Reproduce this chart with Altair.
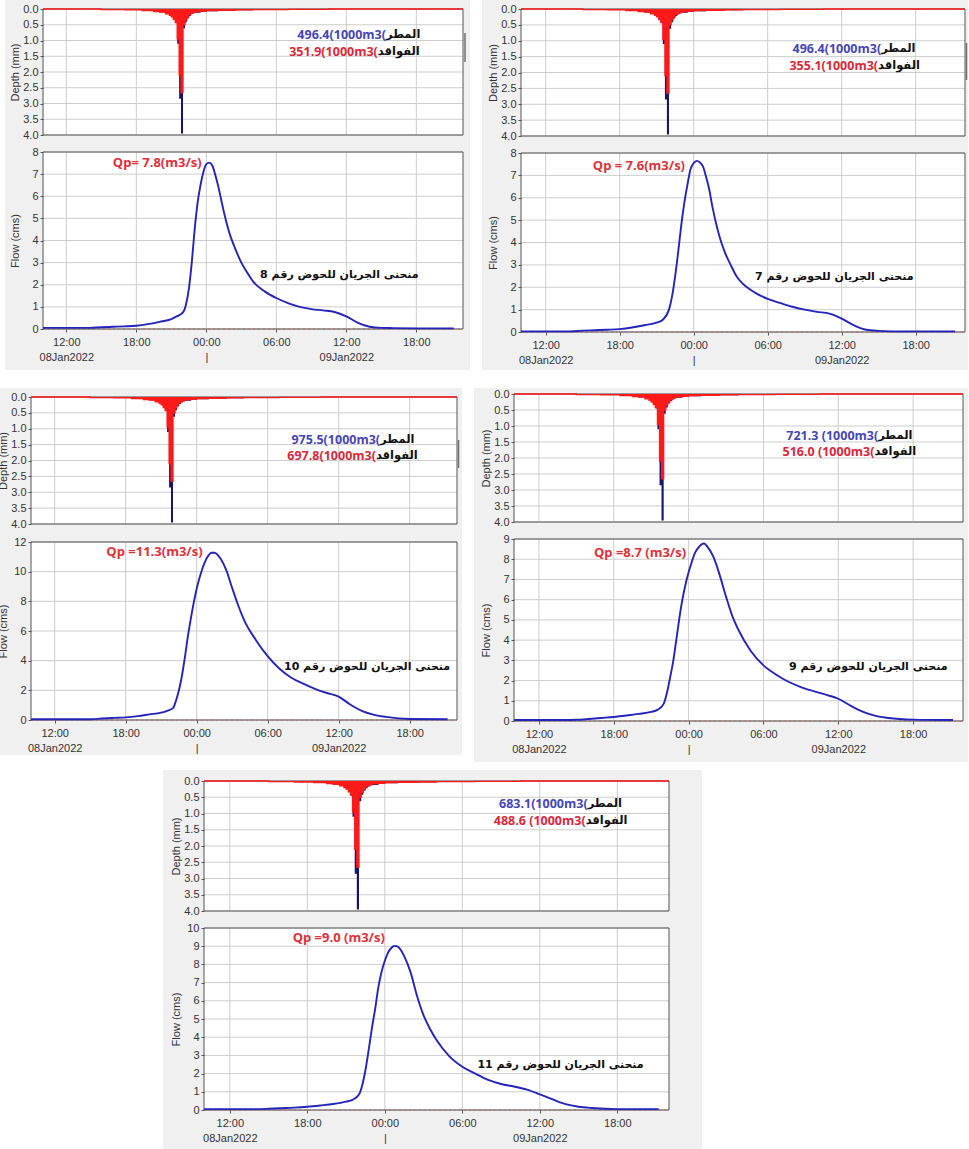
import altair as alt
import pandas as pd

# ---------------- data ----------------
# time in hours since 08Jan2022 00:00
HOURS = [10, 14, 15, 16, 17, 18, 19, 20, 21, 21.5, 22, 22.25, 22.5, 22.75, 23, 23.25, 23.5, 23.75, 24,
         24.25, 24.5, 24.75, 25, 25.25, 25.5, 26, 26.5, 27, 27.5, 28, 29, 30, 31, 32, 33, 34, 35, 36,
         37, 38, 39, 40, 42, 45.2]
FLOW_8 = [0.05, 0.05, 0.08, 0.1, 0.12, 0.15, 0.22, 0.32, 0.45, 0.58, 0.75, 1.1, 1.8, 3.0, 4.5, 5.7, 6.5, 7.1, 7.45,
          7.52, 7.4, 7.0, 6.5, 5.9, 5.3, 4.3, 3.6, 3.0, 2.55, 2.15, 1.7, 1.4, 1.17, 1.0, 0.9, 0.84, 0.77, 0.57,
          0.28, 0.1, 0.05, 0.04, 0.03, 0.03]
FLOW_7 = [0.03, 0.03, 0.06, 0.08, 0.1, 0.13, 0.2, 0.3, 0.42, 0.55, 1.0, 1.6, 2.5, 3.6, 4.8, 5.8, 6.6, 7.28, 7.55,
          7.65, 7.58, 7.4, 6.95, 6.4, 5.65, 4.45, 3.6, 3.0, 2.47, 2.15, 1.75, 1.48, 1.3, 1.13, 1.0, 0.9, 0.82, 0.6,
          0.3, 0.1, 0.05, 0.03, 0.03, 0.03]
FLOW_10 = [0.05, 0.05, 0.05, 0.1, 0.14, 0.18, 0.26, 0.38, 0.5, 0.62, 0.8, 1.3, 2.0, 2.95, 4.2, 5.6, 6.8, 7.9, 8.85,
           9.6, 10.25, 10.75, 11.1, 11.28, 11.28, 10.9, 10.1, 8.9, 7.75, 6.75, 5.4, 4.3, 3.45, 2.85, 2.45, 2.1, 1.82,
           1.58, 1.03, 0.6, 0.35, 0.21, 0.07, 0.05]
FLOW_9 = [0.05, 0.05, 0.06, 0.1, 0.15, 0.2, 0.27, 0.35, 0.45, 0.55, 0.85, 1.36, 2.1, 2.9, 3.95, 5.05, 6.0, 6.75, 7.35,
          7.85, 8.3, 8.55, 8.72, 8.78, 8.62, 8.1, 7.2, 6.15, 5.2, 4.5, 3.45, 2.75, 2.3, 1.94, 1.68, 1.48, 1.3, 1.1,
          0.75, 0.45, 0.25, 0.15, 0.07, 0.05]
FLOW_11 = [0.05, 0.05, 0.07, 0.1, 0.13, 0.18, 0.25, 0.33, 0.46, 0.56, 0.85, 1.36, 2.2, 3.3, 4.5, 5.55, 6.75, 7.6, 8.2,
           8.65, 8.9, 9.02, 8.98, 8.78, 8.45, 7.55, 6.25, 5.2, 4.45, 3.85, 2.95, 2.38, 2.0, 1.65, 1.43, 1.29, 1.12,
           0.86, 0.58, 0.32, 0.18, 0.11, 0.05, 0.05]

# hyetograph (step start times, hours) : precipitation and loss depths (mm)
RAIN_T = [10, 15, 17, 18.5, 19.5, 20, 20.5, 20.83, 21, 21.17, 21.33, 21.5, 21.67, 21.83, 22, 22.17, 22.33,
          22.5, 22.67, 22.83, 23, 23.5, 24, 25, 26.5, 28, 31, 34.5, 46]
RAIN_D = [0, 0.02, 0.03, 0.05, 0.08, 0.1, 0.15, 0.2, 0.25, 0.33, 0.45, 1.1, 2.85, 3.95, 0.62, 0.42, 0.3,
          0.22, 0.17, 0.14, 0.12, 0.09, 0.07, 0.05, 0.04, 0.03, 0.02, 0, 0]
LOSS_D = [0, 0.02, 0.03, 0.05, 0.08, 0.1, 0.15, 0.2, 0.25, 0.33, 0.42, 0.95, 2.1, 2.65, 0.5, 0.35, 0.25,
          0.18, 0.14, 0.11, 0.09, 0.07, 0.05, 0.04, 0.03, 0.02, 0.01, 0, 0]

X_TICKS = [12, 18, 24, 30, 36, 42]
X_LABEL_1 = ["12:00", "18:00", "00:00", "06:00", "12:00", "18:00"]
X_LABEL_2 = ["08Jan2022", "", "|", "", "09Jan2022", ""]
DEPTH_TICKS = [0, 0.5, 1.0, 1.5, 2.0, 2.5, 3.0, 3.5, 4.0]

BASINS = ["8", "7", "10", "9", "11"]
RAIN_TXT = ["496.4(1000m3(", "496.4(1000m3(", "975.5(1000m3(", "721.3 (1000m3(", "683.1(1000m3("]
LOSS_TXT = ["351.9(1000m3(", "355.1(1000m3(", "697.8(1000m3(", "516.0 (1000m3(", "488.6 (1000m3("]
QP_TXT = ["Qp= 7.8(m3/s)", "Qp = 7.6(m3/s)", "Qp =11.3(m3/s)", "Qp =8.7 (m3/s)", "Qp =9.0 (m3/s)"]
FLOW_MAX = [8, 8, 12, 9, 10]
FLOW_STEP = [1, 1, 2, 1, 1]
FLOWS = [FLOW_8, FLOW_7, FLOW_10, FLOW_9, FLOW_11]

# ---------------- styling / layout ----------------
W, H = 969, 1149
BG = "#f0f0f0"
GRID = "#cdcdcd"
BORDER = "#555555"
RAIN_C = "#15156f"
LOSS_C = "#ff1a1a"
FLOW_C = "#2424b8"
NUM_BLUE = "#4646b4"
NUM_RED = "#d8283a"
AR_FONT = "DejaVu Sans"
LAT_FONT = "Open Sans"

# panel boxes and plot areas (pixels), annotation anchors (data coords)
LAYOUT = [
    dict(box=(5, 0, 470, 370), x0=43, x1=463, dy0=9, dy1=135, fy0=152, fy1=329, mark=(465, 33, 62),
         rain=(39.4, 0.84), loss=(38.7, 1.37), qp=(23.6, 7.5), lab=(35.4, 2.44)),
    dict(box=(482, 0, 968, 370), x0=521, x1=965, dy0=9, dy1=136, fy0=153, fy1=332, mark=(966.5, 43, 80),
         rain=(39.2, 1.26), loss=(38.95, 1.79), qp=(23.3, 7.43), lab=(35.4, 2.46)),
    dict(box=(0, 388, 462, 755), x0=31, x1=457, dy0=397, dy1=524, fy0=542, fy1=720, mark=(458.5, 440, 468),
         rain=(39.5, 1.37), loss=(39.15, 1.85), qp=(24.5, 11.35), lab=(38.4, 3.6)),
    dict(box=(474, 388, 968, 762), x0=514, x1=963, dy0=394, dy1=522, fy0=539, fy1=721, mark=None,
         rain=(39.2, 1.31), loss=(38.9, 1.80), qp=(23.8, 8.32), lab=(38.4, 2.66)),
    dict(box=(163, 770, 702, 1149), x0=204, x1=669, dy0=781, dy1=911, fy0=928, fy1=1110, mark=None,
         rain=(39.7, 0.72), loss=(39.55, 1.22), qp=(24.0, 9.43), lab=(37.6, 2.47)),
]

ONE = pd.DataFrame({"k": [0]})


def label_expr():
    parts = []
    for v, a, b in zip(X_TICKS, X_LABEL_1, X_LABEL_2):
        if b:
            parts.append(f"datum.value === {v} ? ['{a}', '{b}']")
        else:
            parts.append(f"datum.value === {v} ? '{a}'")
    return " : ".join(parts) + " : ''"


def rect(x0, x1, y0, y1, **kw):
    return alt.Chart(ONE).mark_rect(**kw).encode(
        x=alt.value(x0), x2=alt.value(x1), y=alt.value(y0), y2=alt.value(y1))


def depth_layer(i):
    P = LAYOUT[i]
    xs = alt.Scale(domain=[10, 46], range=[P["x0"], P["x1"]], nice=False, zero=False)
    ys = alt.Scale(domain=[0, 4], range=[P["dy0"], P["dy1"]], nice=False, zero=False)
    y_ax = alt.Axis(values=DEPTH_TICKS, format=".1f", title="Depth (mm)", orient="left", offset=-P["x0"],
                    tickSize=3, labelPadding=2, labelOverlap=False, grid=False, domain=False, zindex=1,
                    titleX=-28, titleY=(P["dy0"] + P["dy1"]) / 2, titleBaseline="middle")
    X = lambda f: alt.X(f, scale=xs, axis=None)
    Y = lambda f: alt.Y(f, scale=ys, axis=y_ax)
    df = pd.DataFrame({"t": RAIN_T, "rain": RAIN_D, "loss": LOSS_D})
    layers = [
        rect(P["x0"], P["x1"], P["dy0"], P["dy1"], color="white"),
        alt.Chart(pd.DataFrame({"h": X_TICKS})).mark_rule(color=GRID).encode(
            x=X("h:Q"), y=alt.value(P["dy0"]), y2=alt.value(P["dy1"])),
        alt.Chart(pd.DataFrame({"v": DEPTH_TICKS})).mark_rule(color=GRID).encode(
            y=Y("v:Q"), x=alt.value(P["x0"]), x2=alt.value(P["x1"])),
        rect(P["x0"], P["x1"], P["dy0"], P["dy1"], fillOpacity=0, stroke=BORDER, strokeWidth=1),
        alt.Chart(df).mark_area(interpolate="step-after", color=RAIN_C).encode(x=X("t:Q"), y=Y("rain:Q")),
        alt.Chart(df).mark_area(interpolate="step-after", color=LOSS_C).encode(x=X("t:Q"), y=Y("loss:Q")),
        alt.Chart(df).mark_line(interpolate="step-after", color=LOSS_C, strokeWidth=1.3).encode(
            x=X("t:Q"), y=Y("loss:Q")),
    ]
    for txt, (hx, vy), col, al, fnt, fs in [
        (RAIN_TXT[i], P["rain"], NUM_BLUE, "right", LAT_FONT, 12.5),
        ("المطر", P["rain"], "#111111", "left", AR_FONT, 11.5),
        (LOSS_TXT[i], P["loss"], NUM_RED, "right", LAT_FONT, 12.5),
        ("الفواقد", P["loss"], "#111111", "left", AR_FONT, 11.5),
    ]:
        layers.append(alt.Chart(ONE).mark_text(text=txt, color=col, font=fnt, fontWeight="bold", fontSize=fs,
                                               align=al, baseline="middle").encode(
            x=alt.XDatum(hx, scale=xs, axis=None), y=alt.YDatum(vy, scale=ys, axis=y_ax)))
    if P["mark"]:
        mx, my0, my1 = P["mark"]
        layers.append(alt.Chart(ONE).mark_rule(color="#707070", strokeWidth=1.5).encode(
            x=alt.value(mx), y=alt.value(my0), y2=alt.value(my1)))
    return alt.layer(*layers)


def flow_layer(i):
    P = LAYOUT[i]
    ymax = FLOW_MAX[i]
    yticks = list(range(0, ymax + 1, FLOW_STEP[i]))
    xs = alt.Scale(domain=[10, 46], range=[P["x0"], P["x1"]], nice=False, zero=False)
    ys = alt.Scale(domain=[0, ymax], range=[P["fy1"], P["fy0"]], nice=False)
    x_ax = alt.Axis(values=X_TICKS, labelExpr=label_expr(), orient="bottom", offset=P["fy1"] - H,
                    ticks=True, tickSize=3, domain=False, grid=False, title=None, zindex=1, labelPadding=4,
                    labelLineHeight=15, labelBaseline="top", labelOverlap=False, labelFlush=False)
    y_ax = alt.Axis(values=yticks, format="d", title="Flow (cms)", orient="left", offset=-P["x0"],
                    tickSize=3, labelPadding=2, labelOverlap=False, grid=False, domain=False, zindex=1,
                    titleX=-28, titleY=(P["fy0"] + P["fy1"]) / 2, titleBaseline="middle")
    X = lambda f: alt.X(f, scale=xs, axis=x_ax)
    Y = lambda f: alt.Y(f, scale=ys, axis=y_ax)
    df = pd.DataFrame({"t": HOURS, "q": FLOWS[i]})
    layers = [
        rect(P["x0"], P["x1"], P["fy0"], P["fy1"], color="white"),
        alt.Chart(pd.DataFrame({"h": X_TICKS})).mark_rule(color=GRID).encode(
            x=X("h:Q"), y=alt.value(P["fy0"]), y2=alt.value(P["fy1"])),
        alt.Chart(pd.DataFrame({"v": yticks})).mark_rule(color=GRID).encode(
            y=Y("v:Q"), x=alt.value(P["x0"]), x2=alt.value(P["x1"])),
        rect(P["x0"], P["x1"], P["fy0"], P["fy1"], fillOpacity=0, stroke=BORDER, strokeWidth=1),
        alt.Chart(ONE).mark_rule(color="#b86a6a", strokeDash=[2, 3], strokeWidth=1).encode(
            y=alt.YDatum(0, scale=ys, axis=y_ax), x=alt.value(P["x0"]), x2=alt.value(P["x1"])),
        alt.Chart(df).mark_line(interpolate="monotone", color=FLOW_C, strokeWidth=1.9).encode(
            x=X("t:Q"), y=Y("q:Q")),
        alt.Chart(ONE).mark_text(text=QP_TXT[i], color="#e0303a", font=LAT_FONT, fontWeight="bold",
                                 fontSize=13, align="right", baseline="middle").encode(
            x=alt.XDatum(P["qp"][0], scale=xs, axis=x_ax), y=alt.YDatum(P["qp"][1], scale=ys, axis=y_ax)),
        alt.Chart(ONE).mark_text(text="منحنى الجريان للحوض رقم " + BASINS[i], color="#111111", font=AR_FONT,
                                 fontWeight="bold", fontSize=11, align="center", baseline="middle").encode(
            x=alt.XDatum(P["lab"][0], scale=xs, axis=x_ax), y=alt.YDatum(P["lab"][1], scale=ys, axis=y_ax)),
    ]
    return alt.layer(*layers)


background = alt.layer(*[rect(P["box"][0], P["box"][2], P["box"][1], P["box"][3], color=BG) for P in LAYOUT])

children = [background]
for i in range(5):
    children.append(depth_layer(i))
    children.append(flow_layer(i))

chart = alt.layer(*children).resolve_scale(x="independent", y="independent").properties(
    width=W, height=H, padding=0, autosize=alt.AutoSizeParams(type="none"), background="white"
).configure_view(
    fill="white", stroke="transparent"
).configure_axis(
    labelFont="Liberation Sans", labelFontSize=11, labelColor="#333333",
    titleFont="Liberation Sans", titleFontSize=11, titleFontWeight="normal", titleColor="#333333",
    tickColor="#555555"
)

chart.save("out.html", embed_options={"renderer": "svg", "actions": False})
